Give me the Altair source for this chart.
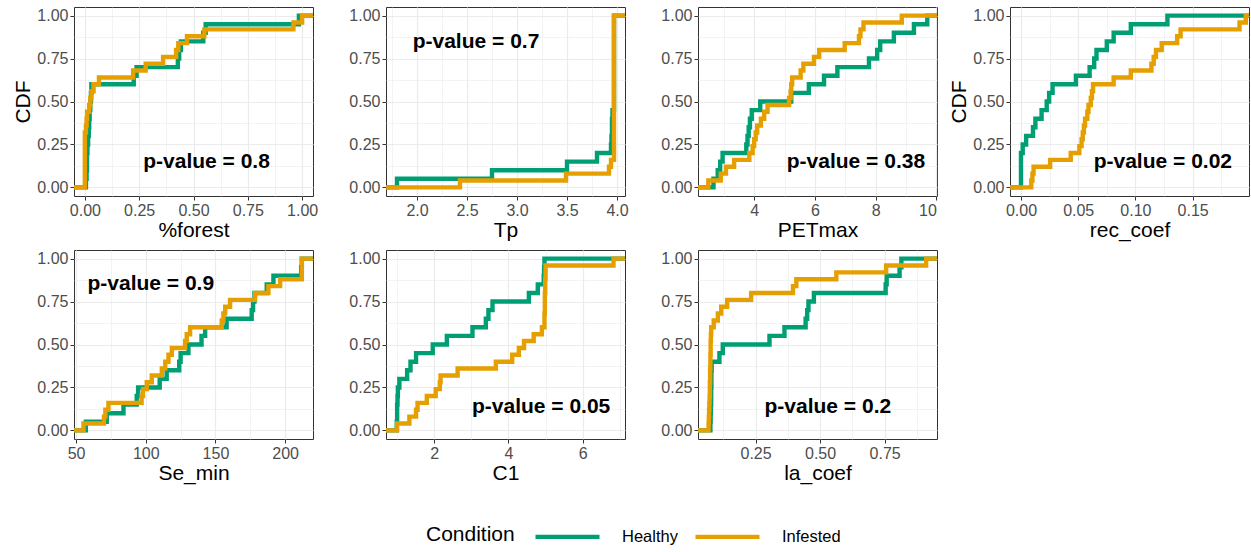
import math
import altair as alt
import pandas as pd

CONDITIONS = ["Healthy", "Infested"]
COLORS = ["#009E73", "#E69F00"]

VARIABLES = ["%forest", "Tp", "PETmax", "rec_coef", "Se_min", "C1", "la_coef"]

forest_healthy = [0.005, 0.008, 0.010, 0.010, 0.012, 0.015, 0.018, 0.020, 0.022, 0.025,
                  0.028, 0.030, 0.225, 0.238, 0.428, 0.434, 0.442, 0.545, 0.556, 0.985]
forest_infested = [0.0, 0.0, 0.0, 0.0, 0.0, 0.0, 0.0, 0.0, 0.005, 0.008, 0.010, 0.020, 0.025,
                   0.030, 0.040, 0.065, 0.222, 0.280, 0.360, 0.420, 0.430, 0.470, 0.550, 0.960, 1.000]

tp_healthy = [1.80, 2.75, 3.50, 3.80, 3.94, 3.945, 3.95, 3.95, 3.955, 3.97,
              3.97, 3.97, 3.97, 3.97, 3.97, 3.97, 3.97, 3.97, 3.97, 3.97]
tp_infested = [2.43, 3.49, 3.92, 3.94, 3.97, 3.97, 3.97, 3.97, 3.97, 3.97, 3.97, 3.97, 3.97,
               3.97, 3.97, 3.97, 3.97, 3.97, 3.97, 3.97, 3.97, 3.97, 3.97, 3.97, 3.97]

pet_healthy = [2.66, 2.80, 2.88, 2.96, 3.74, 3.78, 3.82, 3.86, 3.92, 4.20,
               5.22, 5.80, 6.30, 6.74, 7.78, 8.05, 8.15, 8.60, 9.26, 9.70]
pet_infested = [2.49, 2.90, 3.07, 3.34, 3.84, 3.95, 4.00, 4.05, 4.10, 4.22, 4.33, 4.44, 5.15,
                5.20, 5.22, 5.25, 5.53, 5.62, 5.97, 6.14, 6.98, 7.45, 7.50, 7.60, 8.86]

rec_healthy = [0.0, 0.0, 0.0, 0.0, 0.0015, 0.0045, 0.0105, 0.0126, 0.018, 0.0225,
               0.0246, 0.0276, 0.048, 0.060, 0.064, 0.066, 0.075, 0.081, 0.096, 0.128]
rec_infested = [0.009, 0.010, 0.011, 0.0255, 0.0435, 0.051, 0.053, 0.054, 0.055, 0.056, 0.058,
                0.059, 0.061, 0.062, 0.063, 0.081, 0.096, 0.114, 0.116, 0.118, 0.123, 0.1365,
                0.1395, 0.191, 0.1965]

se_healthy = [57.0, 72.0, 84.0, 93.5, 94.5, 110.0, 115.0, 124.0, 125.0, 130.6,
              140.0, 142.6, 158.0, 176.0, 177.0, 178.0, 186.8, 191.6, 211.5, 212.0]
se_infested = [55.3, 70.0, 71.0, 73.2, 97.0, 98.0, 100.7, 104.3, 111.5, 114.0, 116.3, 118.7,
               128.2, 129.4, 131.8, 154.5, 155.7, 157.0, 160.5, 178.5, 188.0, 196.4, 212.0,
               212.0, 212.0]

c1_healthy = [0.99, 1.00, 1.00, 1.01, 1.02, 1.06, 1.27, 1.36, 1.51, 1.96,
              2.34, 3.03, 3.39, 3.46, 3.57, 4.55, 4.79, 4.95, 4.96, 4.97]
c1_infested = [1.00, 1.33, 1.51, 1.55, 1.80, 2.04, 2.15, 2.17, 2.63, 3.66, 4.10, 4.28, 4.42,
               4.68, 4.90, 4.97, 4.97, 4.98, 4.98, 4.98, 4.99, 4.99, 5.00, 5.00, 6.83]

la_healthy = [0.075, 0.076, 0.077, 0.078, 0.078, 0.079, 0.079, 0.080, 0.110, 0.123,
              0.304, 0.362, 0.444, 0.450, 0.455, 0.476, 0.754, 0.758, 0.808, 0.815]
la_infested = [0.068, 0.069, 0.070, 0.071, 0.072, 0.073, 0.073, 0.074, 0.074, 0.075, 0.075,
               0.076, 0.076, 0.077, 0.078, 0.088, 0.104, 0.117, 0.140, 0.233, 0.395, 0.408,
               0.563, 0.756, 0.911]

HEALTHY = [forest_healthy, tp_healthy, pet_healthy, rec_healthy, se_healthy, c1_healthy, la_healthy]
INFESTED = [forest_infested, tp_infested, pet_infested, rec_infested, se_infested, c1_infested, la_infested]

P_TEXT = ["p-value = 0.8", "p-value = 0.7", "p-value = 0.38", "p-value = 0.02",
          "p-value = 0.9", "p-value = 0.05", "p-value = 0.2"]
P_X = [0.56, 2.59, 7.35, 0.124, 103.6, 4.88, 0.53]
P_Y = [0.15, 0.845, 0.15, 0.15, 0.853, 0.138, 0.138]

X_DOMAINS = [[-0.05, 1.05], [1.69, 4.08], [2.15, 10.02], [-0.0096, 0.1993],
             [48.5, 220.0], [0.70, 7.14], [0.027, 0.953]]
X_STEPS = [0.25, 0.5, 2, 0.05, 50, 2, 0.25]
X_FORMATS = [".2f", ".1f", "d", ".2f", "d", "d", ".2f"]
Y_DOMAIN = [-0.05, 1.05]
Y_STEP = 0.25
SHOW_CDF = [True, False, False, True, False, False, False]

PANEL_W = 239
PANEL_H = 189
FONT = "Liberation Sans"


def ecdf_frame(groups, domain):
    rows = []
    for cond, vals in zip(CONDITIONS, groups):
        s = sorted(vals)
        n = len(s)
        rows.append({"x": domain[0], "y": 0.0, "cond": cond, "idx": 0})
        for i, v in enumerate(s):
            rows.append({"x": v, "y": (i + 1) / n, "cond": cond, "idx": i + 1})
        rows.append({"x": domain[1], "y": 1.0, "cond": cond, "idx": n + 1})
    return pd.DataFrame(rows)


def grid_values(domain, step):
    half = step / 2
    k0 = math.ceil(domain[0] / half - 1e-9)
    k1 = math.floor(domain[1] / half + 1e-9)
    return [round(k * half, 6) for k in range(k0, k1 + 1)]


def major_test(step):
    return f"abs(datum.value / {step} - round(datum.value / {step})) < 0.001"


def make_axis(domain, step, fmt, title, orient):
    test = major_test(step)
    return alt.Axis(
        values=grid_values(domain, step),
        labelExpr=f"{test} ? format(datum.value, '{fmt}') : ''",
        gridColor="#EBEBEB",
        gridWidth={"condition": {"test": test, "value": 1.2}, "value": 0.6},
        tickOpacity={"condition": {"test": test, "value": 1}, "value": 0},
        orient=orient,
        title=title,
    )


def panel(i):
    dom = X_DOMAINS[i]
    df = ecdf_frame([HEALTHY[i], INFESTED[i]], dom)
    xs = alt.Scale(domain=dom, nice=False, zero=False)
    ys = alt.Scale(domain=Y_DOMAIN, nice=False, zero=False)

    def xenc():
        return alt.X("x:Q", scale=xs, axis=make_axis(dom, X_STEPS[i], X_FORMATS[i], VARIABLES[i], "bottom"))

    def yenc():
        return alt.Y("y:Q", scale=ys,
                     axis=make_axis(Y_DOMAIN, Y_STEP, ".2f", "CDF" if SHOW_CDF[i] else None, "left"))

    lines = alt.Chart(df).mark_line(interpolate="step-after", strokeWidth=4.4, clip=True).encode(
        x=xenc(),
        y=yenc(),
        color=alt.Color(
            "cond:N",
            scale=alt.Scale(domain=CONDITIONS, range=COLORS),
            legend=alt.Legend(
                title="Condition", orient="none", legendX=352, legendY=495,
                direction="horizontal", titleOrient="left", titleAnchor="middle",
                symbolType="stroke",
                symbolStrokeWidth=4.4, symbolSize=4096, labelFontSize=16.5, titleFontSize=21,
                titleFontWeight="normal", titleColor="black", labelColor="black",
                labelOffset=20, columnPadding=8, titlePadding=18, titleBaseline="top",
                labelFont=FONT, titleFont=FONT,
            ),
        ),
        order=alt.Order("idx:Q"),
    )
    tdf = pd.DataFrame({"x": [P_X[i]], "y": [P_Y[i]], "t": [P_TEXT[i]]})
    text = alt.Chart(tdf).mark_text(
        font=FONT, fontSize=21, fontWeight="bold", color="black", align="center", baseline="middle"
    ).encode(
        x=xenc(),
        y=yenc(),
        text="t:N",
    )
    return alt.layer(lines, text).properties(width=PANEL_W, height=PANEL_H)


chart = alt.concat(
    *[panel(i) for i in range(7)],
    columns=4,
    spacing={"row": 54, "column": 73},
    bounds="flush",
).properties(
    padding={"left": 12, "top": 6, "right": 1, "bottom": 2},
    background="white",
).configure_view(
    stroke="#333333", strokeWidth=1
).configure_axis(
    domain=False,
    labelFont=FONT, labelFontSize=16, labelColor="#4D4D4D", labelPadding=2,
    tickColor="#333333", tickSize=4, tickWidth=1,
    titleFont=FONT, titleFontSize=21, titleFontWeight="normal", titleColor="black",
).configure_axisBottom(
    titlePadding=1
).configure_axisLeft(
    titlePadding=3
)

chart.save("out.html", embed_options={"renderer": "svg", "actions": False})
